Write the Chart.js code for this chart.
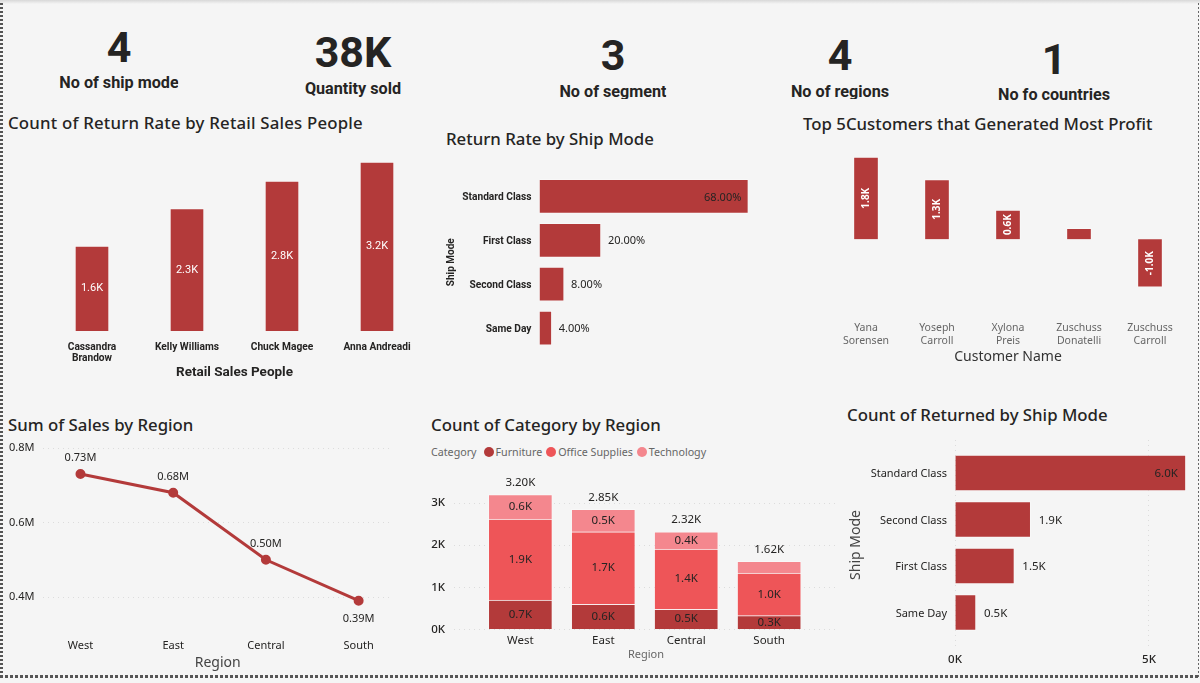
<!DOCTYPE html>
<html>
<head>
<meta charset="utf-8">
<script src="https://cdn.jsdelivr.net/npm/chart.js@4"></script>
<style>
  html, body { margin: 0; padding: 0; background: #f5f5f5; }
  body { position: relative; width: 1200px; height: 683px; overflow: hidden; }
  canvas { position: absolute; }
  .topband { position: absolute; left: 0; top: 0; width: 1200px; height: 4px; background: linear-gradient(#d8d8d8, #f5f5f5); }
  .frame-left { position: absolute; left: 0; top: 3px; width: 3px; height: 675px; background: repeating-linear-gradient(to bottom, #555 0 2px, transparent 2px 4px); }
  .frame-right { position: absolute; left: 1198px; top: 3px; width: 1px; height: 675px; background: repeating-linear-gradient(to bottom, #666 0 2px, transparent 2px 4px); }
  .frame-bottom { position: absolute; left: 0; top: 675px; width: 1200px; height: 3px; background: repeating-linear-gradient(to right, #555 0 3px, transparent 3px 5px); }
  .kpi, .kpi-label, .title, .title-wide { position: absolute; white-space: nowrap; }
  .kpi { font: 700 43px/46px Roboto, sans-serif; color: #252423; transform: translateX(-50%); }
  .kpi-label { font: 700 16.2px/20px Roboto, sans-serif; color: #252423; transform: translateX(-50%); overflow: hidden; }
  .title, .title-wide { font: 500 16.8px/24px "Noto Sans", sans-serif; color: #252423; }
  .title-wide { letter-spacing: 0.2px; }
  .legend { position: absolute; left: 431px; top: 444px; height: 16px; display: flex; align-items: center; font: 10.7px/16px "Noto Sans", sans-serif; color: #666; white-space: nowrap; }
  .legend i { display: inline-block; width: 10px; height: 10px; border-radius: 50%; margin: 0 2px 0 0; }
  .legend span { margin-right: 4px; }
  .legend .head { margin-right: 7px; }
</style>
</head>
<body>
<div class="topband"></div>
<div id="texts"></div>
<div class="legend" id="legend"></div>
<canvas id="salesPeople"></canvas>
<canvas id="returnRate"></canvas>
<canvas id="customers"></canvas>
<canvas id="salesRegion"></canvas>
<canvas id="categoryRegion"></canvas>
<canvas id="returned"></canvas>
<div class="frame-left"></div>
<div class="frame-right"></div>
<div class="frame-bottom"></div>

<script>
// values
const kpiValues = ['4', '38K', '3', '4', '1'];
const kpiNames = ['No of ship mode', 'Quantity sold', 'No of segment', 'No of regions', 'No fo countries'];

const salesPeople = [['Cassandra', 'Brandow'], 'Kelly Williams', 'Chuck Magee', 'Anna Andreadi'];
const salesPeopleCounts = [1610, 2320, 2840, 3200];

const rateModes = ['Standard Class', 'First Class', 'Second Class', 'Same Day'];
const rateValues = [68, 20, 8, 4];

const customers = [['Yana', 'Sorensen'], ['Yoseph', 'Carroll'], ['Xylona', 'Preis'], ['Zuschuss', 'Donatelli'], ['Zuschuss', 'Carroll']];
const customerProfit = [1800, 1310, 640, 240, -1049];

const regions = ['West', 'East', 'Central', 'South'];
const regionSales = [730000, 680000, 500000, 390000];
const salesTicks = [400000, 600000, 800000];

const categories = ['Furniture', 'Office Supplies', 'Technology'];
const furniture = [700, 600, 480, 330];
const officeSupplies = [1920, 1720, 1430, 1010];
const technology = [580, 530, 410, 280];
const regionTotals = [3200, 2850, 2320, 1620];
const categoryTicks = [0, 1000, 2000, 3000];

const returnedModes = ['Standard Class', 'Second Class', 'First Class', 'Same Day'];
const returnedCounts = [5950, 1950, 1530, 540];
const returnedTicks = [0, 5000];

const RED = '#b33a3a', MID = '#ee5558', PINK = '#f4878e', EDGE = 'rgba(255,255,255,0.35)';
const DARK = '#252423', GREY = '#666666', GRID = '#dcdcdc';
const BODY = '"Noto Sans", sans-serif', DIN = 'Roboto, sans-serif';

Chart.defaults.font.family = BODY;
Chart.defaults.animation = false;

// kpi cards and chart titles
const texts = document.querySelector('#texts');
function addText(cls, str, x, y, clipHeight) {
    const el = document.createElement('div');
    el.className = cls;
    el.textContent = str;
    el.style.left = x + 'px';
    el.style.top = y + 'px';
    if (clipHeight) el.style.height = clipHeight + 'px';
    texts.appendChild(el);
}
const kpiX = [119, 353, 613, 840, 1054];
const kpiY = [24, 29, 32, 32, 36];
const kpiLabelY = [73, 79, 82, 82, 85];
const kpiLabelClip = [0, 0, 17, 17, 0];
kpiValues.forEach((v, i) => addText('kpi', v, kpiX[i], kpiY[i]));
kpiNames.forEach((v, i) => addText('kpi-label', v, kpiX[i], kpiLabelY[i], kpiLabelClip[i]));

addText('title-wide', 'Count of Return Rate by Retail Sales People', 8, 111);
addText('title', 'Return Rate by Ship Mode', 446, 127);
addText('title', 'Top 5Customers that Generated Most Profit', 803, 112);
addText('title', 'Sum of Sales by Region', 8, 413);
addText('title', 'Count of Category by Region', 431, 413);
addText('title', 'Count of Returned by Ship Mode', 847, 403);

// legend of the stacked chart
const legend = document.querySelector('#legend');
legend.innerHTML = '<span class="head">Category</span>' + categories.map((c, i) =>
    `<i style="background:${[RED, MID, PINK][i]}"></i><span>${c}</span>`).join('');

const kFmt = v => (v / 1000).toFixed(1) + 'K';

// data labels on the marks
const valueLabels = {
    id: 'valueLabels',
    afterDatasetsDraw(chart, args, opts) {
        if (!opts.format) return;
        const ctx = chart.ctx;
        chart.data.datasets.forEach((ds, d) => {
            chart.getDatasetMeta(d).data.forEach((el, i) => {
                const text = opts.format(ds.values[i], i);
                if (!text) return;
                const p = opts.place(el, i);
                ctx.save();
                ctx.translate(p.x, p.y);
                if (opts.rotate) ctx.rotate(opts.rotate);
                ctx.font = opts.font;
                ctx.fillStyle = p.color || opts.color;
                ctx.textAlign = p.align || 'center';
                ctx.textBaseline = 'middle';
                ctx.fillText(text, 0, 0);
                ctx.restore();
            });
        });
        if (opts.totals) {
            ctx.save();
            ctx.font = opts.font;
            ctx.fillStyle = DARK;
            ctx.textAlign = 'center';
            ctx.textBaseline = 'middle';
            opts.totals.forEach((t, i) => {
                ctx.fillText((t / 1000).toFixed(2) + 'K', chart.scales.x.getPixelForValue(i), chart.scales.y.getPixelForValue(t) - 12);
            });
            ctx.restore();
        }
    }
};
Chart.register(valueLabels);

const barCenter = el => ({ x: el.x, y: (el.y + el.base) / 2 });
const barEnd = (inside, gap) => (el, i) => inside(el)
    ? { x: el.x - gap, y: el.y + 1, align: 'right' }
    : { x: el.x + gap, y: el.y + 1, align: 'left' };

// fixes the plot rectangle on the page, whatever the tick labels measure
function place(id, box, plot, config) {
    const canvas = document.querySelector('#' + id);
    canvas.width = box.r - box.l;
    canvas.height = box.b - box.t;
    canvas.style.left = box.l + 'px';
    canvas.style.top = box.t + 'px';
    const { x, y } = config.options.scales;
    x.afterFit = s => { s.height = box.b - plot.b; s.paddingLeft = s.paddingRight = 0; };
    y.afterFit = s => { s.width = plot.l - box.l; s.paddingTop = s.paddingBottom = 0; };
    config.options.layout = { padding: { top: plot.t - box.t, right: box.r - plot.r, left: 0, bottom: 0 } };
    config.options.responsive = false;
    config.options.plugins = Object.assign({ legend: { display: false }, tooltip: { enabled: false } }, config.options.plugins);
    return new Chart(canvas, config);
}

const noGrid = { display: false, drawTicks: false };
const noBorder = { display: false };
const dotted = { display: false, dash: [1, 4] };
const dots = { color: GRID, drawTicks: false };
// category axis on a linear scale so the grid can run wider than the bands
const fixedTicks = values => s => { s.ticks = values.map(value => ({ value })); };
const indexTicks = (names, font, color, padding, labelOffset) => ({
    autoSkip: false, maxRotation: 0, font, color, padding, labelOffset,
    callback: v => names[v]
});
const indexes = fixedTicks(regions.map((r, i) => i));

place('salesPeople', { l: 0, t: 140, r: 430, b: 381 }, { l: 44.5, t: 146.2, r: 424.5, b: 331 }, {
    type: 'bar',
    data: { labels: salesPeople, datasets: [{ data: salesPeopleCounts, values: salesPeopleCounts, backgroundColor: RED, borderColor: EDGE, borderWidth: 1, barThickness: 34 }] },
    options: {
        plugins: { valueLabels: { format: kFmt, place: barCenter, color: '#ffffff', font: '400 11px ' + DIN } },
        scales: {
            x: {
                grid: noGrid, border: noBorder,
                ticks: { font: { family: DIN, weight: 700, size: 10.2, lineHeight: 1.1 }, color: DARK, padding: 11, maxRotation: 0, autoSkip: false },
                title: { display: true, text: 'Retail Sales People', font: { family: DIN, weight: 700, size: 13.5 }, color: DARK, padding: 0 }
            },
            y: { display: false, min: 0, max: 3500 }
        }
    }
});

place('returnRate', { l: 445, t: 170, r: 770, b: 355 }, { l: 539.5, t: 174.5, r: 760, b: 350 }, {
    type: 'bar',
    data: { labels: rateModes, datasets: [{ data: rateValues, values: rateValues, backgroundColor: RED, borderColor: EDGE, borderWidth: 1, barThickness: 34 }] },
    options: {
        indexAxis: 'y',
        plugins: { valueLabels: { format: v => v.toFixed(2) + '%', place: barEnd(el => el.x - el.base > 100, 7), color: DARK, font: '11px ' + BODY } },
        scales: {
            x: { display: false, min: 0, max: 71.8 },
            y: {
                grid: noGrid, border: noBorder,
                ticks: { font: { family: DIN, weight: 700, size: 10.2 }, color: DARK, padding: 8, labelOffset: 1.5 },
                title: { display: true, text: 'Ship Mode', font: { family: DIN, weight: 700, size: 10 }, color: DARK, padding: 0 }
            }
        }
    }
});

place('customers', { l: 800, t: 140, r: 1195, b: 365 }, { l: 830.5, t: 148, r: 1185.5, b: 307.7 }, {
    type: 'bar',
    data: { labels: customers, datasets: [{ data: customerProfit, values: customerProfit, backgroundColor: RED, borderColor: EDGE, borderWidth: 1, barThickness: 25 }] },
    options: {
        plugins: { valueLabels: { format: v => Math.abs(v) < 500 ? '' : kFmt(v), place: barCenter, rotate: -Math.PI / 2, color: '#ffffff', font: 'bold 10px ' + BODY } },
        scales: {
            x: {
                grid: noGrid, border: noBorder,
                ticks: { font: { size: 10.5 }, color: GREY, padding: 14, maxRotation: 0, autoSkip: false },
                title: { display: true, text: 'Customer Name', font: { size: 14 }, color: '#333333', padding: 0 }
            },
            y: { display: false, min: -1500, max: 2000 }
        }
    }
});

place('salesRegion', { l: 0, t: 440, r: 410, b: 671 }, { l: 43.4, t: 448, r: 392, b: 634.25 }, {
    type: 'line',
    data: { datasets: [{
        data: regions.map((r, i) => ({ x: i, y: regionSales[i] })), values: regionSales,
        borderColor: RED, backgroundColor: RED, borderWidth: 3, pointRadius: 3.5, tension: 0
    }] },
    options: {
        clip: false,
        plugins: { valueLabels: {
            format: v => (v / 1000000).toFixed(2) + 'M',
            place: (el, i) => ({ x: el.x, y: el.y + (i === 3 ? 18 : -16) }),
            color: DARK, font: '11px ' + BODY
        } },
        scales: {
            x: {
                type: 'linear', min: -0.4, max: 3.36, afterBuildTicks: indexes,
                grid: noGrid, border: noBorder,
                ticks: indexTicks(regions, { size: 11 }, DARK, 5),
                title: { display: true, text: 'Region', font: { size: 14 }, color: '#444444', padding: 0 }
            },
            y: {
                min: 300000, max: 800000, afterBuildTicks: fixedTicks(salesTicks),
                grid: dots, border: dotted,
                ticks: { padding: 9, font: { size: 11 }, color: DARK, callback: v => (v / 1000000).toFixed(1) + 'M' }
            }
        }
    }
});

place('categoryRegion', { l: 420, t: 470, r: 845, b: 661 }, { l: 454, t: 482, r: 838, b: 629.5 }, {
    type: 'bar',
    data: { datasets: [furniture, officeSupplies, technology].map((vals, k) => ({
        label: categories[k], values: vals,
        data: vals.map((v, i) => ({ x: i, y: v })),
        backgroundColor: [RED, MID, PINK][k], borderColor: EDGE, borderWidth: 1, barThickness: 64
    })) },
    options: {
        plugins: { valueLabels: {
            format: v => v < 300 ? '' : kFmt(v), place: barCenter, color: DARK,
            font: '11.5px ' + BODY, totals: regionTotals
        } },
        scales: {
            x: {
                type: 'linear', offset: false, stacked: true, min: -0.8, max: 3.83, afterBuildTicks: indexes,
                grid: noGrid, border: noBorder,
                ticks: indexTicks(regions, { size: 11.5 }, DARK, 4),
                title: { display: true, text: 'Region', font: { size: 11 }, color: GREY, padding: 0 }
            },
            y: {
                stacked: true, min: 0, max: 3500, afterBuildTicks: fixedTicks(categoryTicks),
                grid: dots, border: dotted,
                ticks: { padding: 9, font: { size: 11.5, weight: 500 }, color: DARK, callback: v => (v / 1000) + 'K' }
            }
        }
    }
});

place('returned', { l: 848, t: 435, r: 1195, b: 670 }, { l: 955, t: 440, r: 1190, b: 650 }, {
    type: 'bar',
    data: { datasets: [{
        data: returnedModes.map((m, i) => ({ x: returnedCounts[i], y: i })), values: returnedCounts,
        backgroundColor: RED, borderColor: EDGE, borderWidth: 1, barThickness: 36
    }] },
    options: {
        indexAxis: 'y',
        plugins: { valueLabels: { format: kFmt, place: barEnd(el => el.x - el.base > 100, 8), color: DARK, font: '11.5px ' + BODY } },
        scales: {
            x: {
                min: 0, max: 6057, afterBuildTicks: fixedTicks(returnedTicks),
                grid: dots, border: dotted,
                ticks: { padding: 3, font: { size: 11.5, weight: 500 }, color: DARK, callback: v => (v / 1000) + 'K' }
            },
            y: {
                type: 'linear', offset: false, reverse: true, min: -0.71, max: 3.806, afterBuildTicks: indexes,
                grid: noGrid, border: noBorder,
                ticks: indexTicks(returnedModes, { size: 11 }, DARK, 8, 1),
                title: { display: true, text: 'Ship Mode', font: { size: 14 }, color: '#444444', padding: 0 }
            }
        }
    }
});
</script>
</body>
</html>
